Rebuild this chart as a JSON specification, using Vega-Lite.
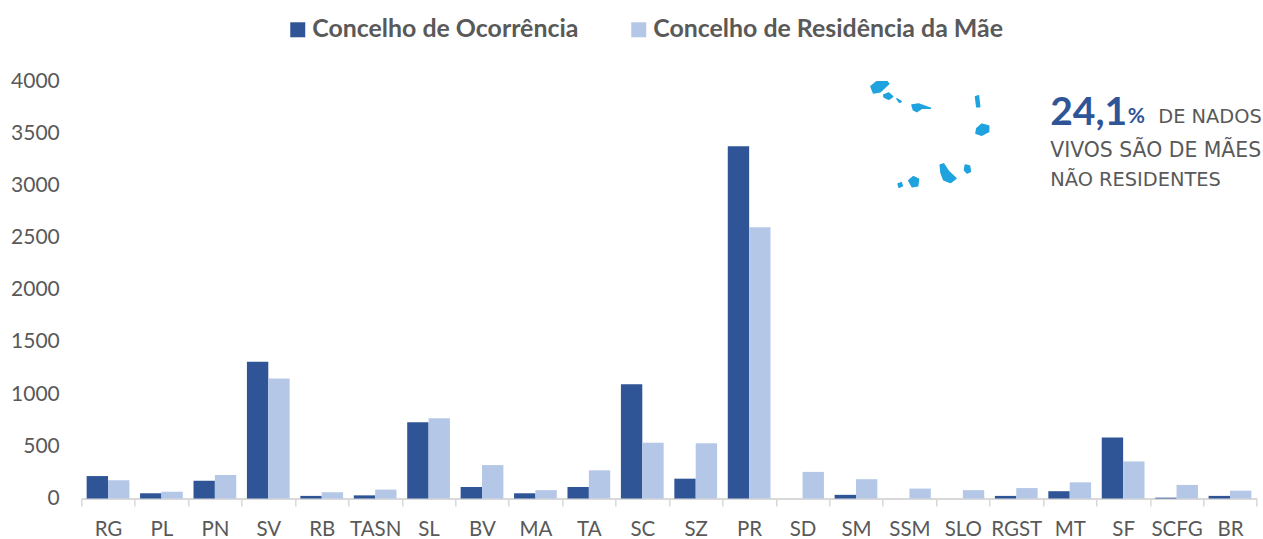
{
  "$schema": "https://vega.github.io/schema/vega-lite/v6.json",
  "width": 1175.4,
  "height": 417.5,
  "autosize": "none",
  "padding": {"left": 81.3, "top": 81, "right": 6.3, "bottom": 40.5},
  "background": "white",
  "config": {"view": {"stroke": null}, "font": "Lato"},
  "layer": [
    {
      "data": {"values": [
        {"c":"RG","s":"Concelho de Ocorrência","v":215},{"c":"RG","s":"Concelho de Residência da Mãe","v":175},
        {"c":"PL","s":"Concelho de Ocorrência","v":50},{"c":"PL","s":"Concelho de Residência da Mãe","v":65},
        {"c":"PN","s":"Concelho de Ocorrência","v":170},{"c":"PN","s":"Concelho de Residência da Mãe","v":225},
        {"c":"SV","s":"Concelho de Ocorrência","v":1310},{"c":"SV","s":"Concelho de Residência da Mãe","v":1150},
        {"c":"RB","s":"Concelho de Ocorrência","v":25},{"c":"RB","s":"Concelho de Residência da Mãe","v":60},
        {"c":"TASN","s":"Concelho de Ocorrência","v":30},{"c":"TASN","s":"Concelho de Residência da Mãe","v":85},
        {"c":"SL","s":"Concelho de Ocorrência","v":730},{"c":"SL","s":"Concelho de Residência da Mãe","v":770},
        {"c":"BV","s":"Concelho de Ocorrência","v":110},{"c":"BV","s":"Concelho de Residência da Mãe","v":320},
        {"c":"MA","s":"Concelho de Ocorrência","v":50},{"c":"MA","s":"Concelho de Residência da Mãe","v":80},
        {"c":"TA","s":"Concelho de Ocorrência","v":110},{"c":"TA","s":"Concelho de Residência da Mãe","v":270},
        {"c":"SC","s":"Concelho de Ocorrência","v":1095},{"c":"SC","s":"Concelho de Residência da Mãe","v":535},
        {"c":"SZ","s":"Concelho de Ocorrência","v":190},{"c":"SZ","s":"Concelho de Residência da Mãe","v":530},
        {"c":"PR","s":"Concelho de Ocorrência","v":3375},{"c":"PR","s":"Concelho de Residência da Mãe","v":2600},
        {"c":"SD","s":"Concelho de Ocorrência","v":0},{"c":"SD","s":"Concelho de Residência da Mãe","v":255},
        {"c":"SM","s":"Concelho de Ocorrência","v":35},{"c":"SM","s":"Concelho de Residência da Mãe","v":185},
        {"c":"SSM","s":"Concelho de Ocorrência","v":0},{"c":"SSM","s":"Concelho de Residência da Mãe","v":95},
        {"c":"SLO","s":"Concelho de Ocorrência","v":0},{"c":"SLO","s":"Concelho de Residência da Mãe","v":80},
        {"c":"RGST","s":"Concelho de Ocorrência","v":25},{"c":"RGST","s":"Concelho de Residência da Mãe","v":100},
        {"c":"MT","s":"Concelho de Ocorrência","v":70},{"c":"MT","s":"Concelho de Residência da Mãe","v":155},
        {"c":"SF","s":"Concelho de Ocorrência","v":585},{"c":"SF","s":"Concelho de Residência da Mãe","v":355},
        {"c":"SCFG","s":"Concelho de Ocorrência","v":8},{"c":"SCFG","s":"Concelho de Residência da Mãe","v":130},
        {"c":"BR","s":"Concelho de Ocorrência","v":25},{"c":"BR","s":"Concelho de Residência da Mãe","v":75}
      ]},
      "mark": {"type": "bar"},
      "encoding": {
        "x": {
          "field": "c", "type": "nominal", "sort": null,
          "scale": {"paddingInner": 0, "paddingOuter": 0},
          "axis": {
            "title": null, "labelAngle": 0, "labelFontSize": 20.5, "labelColor": "#595959",
            "labelPadding": 13, "tickBand": "extent", "tickSize": 7.5, "tickColor": "#d9d9d9",
            "tickWidth": 1.5, "domainColor": "#d9d9d9", "domainWidth": 2, "grid": false, "labelFont": "Lato"
          }
        },
        "xOffset": {
          "field": "s", "type": "nominal",
          "scale": {"domain": ["Concelho de Ocorrência", "Concelho de Residência da Mãe"], "paddingOuter": 0.25, "paddingInner": 0}
        },
        "y": {
          "field": "v", "type": "quantitative",
          "scale": {"domain": [0, 4000], "nice": false},
          "axis": {
            "title": null, "values": [0,500,1000,1500,2000,2500,3000,3500,4000], "format": "d", "labelFontSize": 21,
            "labelColor": "#595959", "labelPadding": 22, "ticks": false, "domain": false, "grid": false, "labelFont": "Lato"
          }
        },
        "color": {
          "field": "s", "type": "nominal",
          "scale": {"domain": ["Concelho de Ocorrência", "Concelho de Residência da Mãe"], "range": ["#2f5597", "#b4c7e7"]},
          "legend": {
            "title": null, "orient": "none", "direction": "horizontal", "legendX": 204, "legendY": -64,
            "symbolType": "square", "symbolSize": 225, "symbolStrokeWidth": 0, "labelFontSize": 24.9, "labelFontWeight": "bold",
            "labelColor": "#595959", "labelOffset": 2, "columnPadding": 47, "labelLimit": 500, "labelFont": "Lato"
          }
        }
      }
    },
    {
      "data": {"values": [{"c": "MT", "v": 3578, "t": "24,1"}]},
      "mark": {"type": "text", "align": "left", "baseline": "alphabetic", "dx": -19.5, "fontSize": 39, "fontWeight": "bold", "color": "#2f5597"},
      "encoding": {
        "x": {"field": "c", "type": "nominal", "sort": null},
        "y": {"field": "v", "type": "quantitative"},
        "text": {"field": "t"}
      }
    },
    {
      "data": {"values": [{"c": "MT", "v": 3598, "t": "%"}]},
      "mark": {"type": "text", "align": "left", "baseline": "alphabetic", "dx": 58, "fontSize": 21, "fontWeight": "bold", "color": "#2f5597"},
      "encoding": {
        "x": {"field": "c", "type": "nominal", "sort": null},
        "y": {"field": "v", "type": "quantitative"},
        "text": {"field": "t"}
      }
    },
    {
      "data": {"values": [{"c": "MT", "v": 3598, "t": "DE NADOS"}]},
      "mark": {"type": "text", "align": "left", "baseline": "alphabetic", "dx": 88.5, "fontSize": 19.4, "font": "DejaVu Sans", "color": "#595959"},
      "encoding": {
        "x": {"field": "c", "type": "nominal", "sort": null},
        "y": {"field": "v", "type": "quantitative"},
        "text": {"field": "t"}
      }
    },
    {
      "data": {"values": [{"c": "MT", "v": 3272, "t": "VIVOS SÃO DE MÃES"}]},
      "mark": {"type": "text", "align": "left", "baseline": "alphabetic", "dx": -19.5, "fontSize": 20.4, "font": "DejaVu Sans", "color": "#595959"},
      "encoding": {
        "x": {"field": "c", "type": "nominal", "sort": null},
        "y": {"field": "v", "type": "quantitative"},
        "text": {"field": "t"}
      }
    },
    {
      "data": {"values": [{"c": "MT", "v": 2994, "t": "NÃO RESIDENTES"}]},
      "mark": {"type": "text", "align": "left", "baseline": "alphabetic", "dx": -19.5, "fontSize": 19.4, "font": "DejaVu Sans", "color": "#595959"},
      "encoding": {
        "x": {"field": "c", "type": "nominal", "sort": null},
        "y": {"field": "v", "type": "quantitative"},
        "text": {"field": "t"}
      }
    },
    {
      "data": {
        "values": {"type": "FeatureCollection", "features": [
          {"type":"Feature","properties":{"n":"Santo Antão"},"geometry":{"type":"Polygon","coordinates":[[[-25.42,17.06],[-25.28,17.17],[-25.08,17.21],[-25.0,17.12],[-25.20,16.94],[-25.36,16.91],[-25.42,17.06]]]}},
          {"type":"Feature","properties":{"n":"São Vicente"},"geometry":{"type":"Polygon","coordinates":[[[-25.12,16.87],[-25.0,16.91],[-24.91,16.83],[-25.0,16.77],[-25.11,16.82],[-25.12,16.87]]]}},
          {"type":"Feature","properties":{"n":"Santa Luzia"},"geometry":{"type":"Polygon","coordinates":[[[-24.81,16.78],[-24.71,16.72],[-24.75,16.70],[-24.81,16.78]]]}},
          {"type":"Feature","properties":{"n":"São Nicolau"},"geometry":{"type":"Polygon","coordinates":[[[-24.455,16.64],[-24.30,16.665],[-24.02,16.57],[-24.22,16.57],[-24.34,16.49],[-24.42,16.53],[-24.455,16.64]]]}},
          {"type":"Feature","properties":{"n":"Sal"},"geometry":{"type":"Polygon","coordinates":[[[-22.96,16.83],[-22.89,16.85],[-22.86,16.60],[-22.93,16.60],[-22.96,16.83]]]}},
          {"type":"Feature","properties":{"n":"Boa Vista"},"geometry":{"type":"Polygon","coordinates":[[[-22.93,16.11],[-22.81,16.21],[-22.65,16.17],[-22.65,16.04],[-22.81,15.96],[-22.95,16.00],[-22.93,16.11]]]}},
          {"type":"Feature","properties":{"n":"Santiago"},"geometry":{"type":"Polygon","coordinates":[[[-23.79,15.285],[-23.71,15.31],[-23.59,15.135],[-23.42,14.98],[-23.55,14.885],[-23.71,14.95],[-23.77,15.10],[-23.79,15.285]]]}},
          {"type":"Feature","properties":{"n":"Maio"},"geometry":{"type":"Polygon","coordinates":[[[-23.20,15.285],[-23.10,15.26],[-23.08,15.135],[-23.16,15.10],[-23.22,15.17],[-23.20,15.285]]]}},
          {"type":"Feature","properties":{"n":"Fogo"},"geometry":{"type":"Polygon","coordinates":[[[-24.53,14.93],[-24.42,15.02],[-24.30,14.96],[-24.32,14.81],[-24.45,14.79],[-24.53,14.93]]]}},
          {"type":"Feature","properties":{"n":"Brava"},"geometry":{"type":"Polygon","coordinates":[[[-24.78,14.855],[-24.71,14.885],[-24.68,14.81],[-24.76,14.78],[-24.78,14.855]]]}}
        ]},
        "format": {"type": "json", "property": "features"}
      },
      "projection": {"type": "mercator", "scale": 2435, "center": [-24, 16], "translate": [850, 52.4]},
      "mark": {"type": "geoshape", "fill": "#1fa3de", "stroke": "#1fa3de", "strokeWidth": 1.5, "strokeJoin": "round"},
      "encoding": {}
    }
  ]
}
